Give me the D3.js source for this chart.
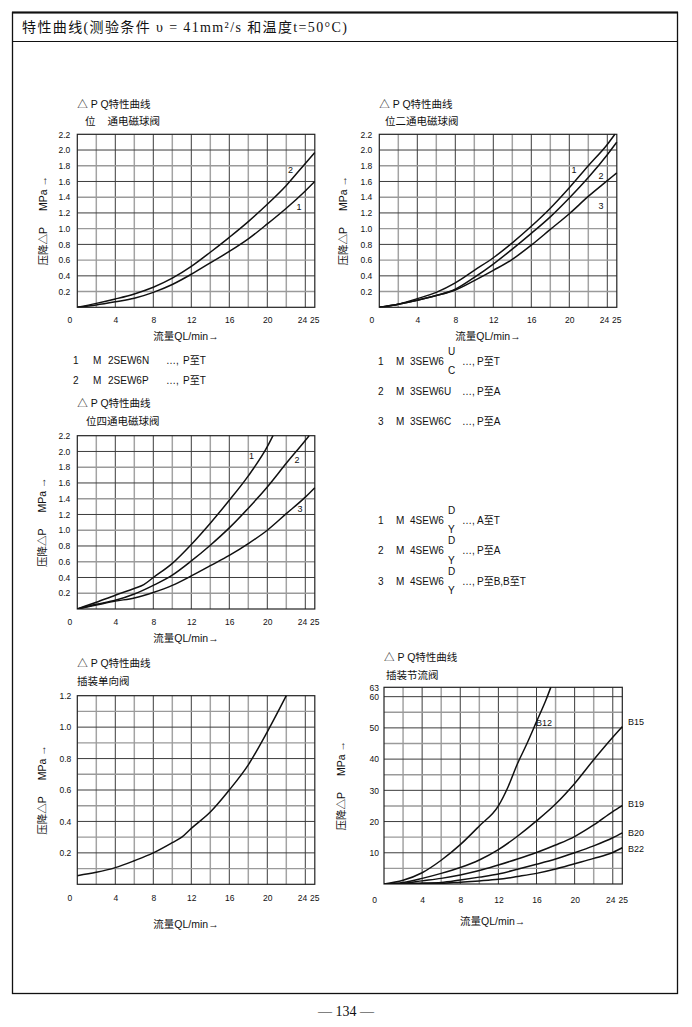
<!DOCTYPE html>
<html><head><meta charset="utf-8">
<script src="https://cdn.jsdelivr.net/npm/d3@7"></script>
<style>
html,body{margin:0;padding:0;background:#fff;}
svg{display:block;}
text{font-family:"Liberation Sans","Noto Sans CJK SC",sans-serif;fill:#111;}
</style></head><body>
<svg id="page" width="692" height="1027"></svg>
<script>
// ---------------- DATA ----------------
const headerText = "特性曲线(测验条件 υ = 41mm²/s 和温度t=50°C)";
const pageNumber = "— 134 —";
const chartTitle = "△ P  Q特性曲线";
const subtitles = ["位", "通电磁球阀", "位二通电磁球阀", "位四通电磁球阀", "插装单向阀", "插装节流阀"];
const yAxisTitleA = "压降△P";
const yAxisTitleB = "MPa →";
const xAxisTitle = "流量QL/min→";

const xTicks = [0, 4, 8, 12, 16, 20, 24, 25];
const xGrid = [2, 4, 6, 8, 10, 12, 14, 16, 18, 20, 22, 24];
const yTicksP = [0.2, 0.4, 0.6, 0.8, 1.0, 1.2, 1.4, 1.6, 1.8, 2.0, 2.2];
const yGridP = [0.2, 0.4, 0.6, 0.8, 1.0, 1.2, 1.4, 1.6, 1.8, 2.0];
const yTicksCheck = [0.2, 0.4, 0.6, 0.8, 1.0, 1.2];
const yGridCheck = [0.1, 0.2, 0.3, 0.4, 0.5, 0.6, 0.7, 0.8, 0.9, 1.0, 1.1];
const yTicksThrottle = [10, 20, 30, 40, 50, 60, 63];
const yGridThrottle = [5, 10, 15, 20, 25, 30, 35, 40, 45, 50, 55, 60];

const q = [0, 2, 4, 6, 8, 10, 12, 14, 16, 18, 20, 22, 24, 25];

// chart 1: 2-way ball valve
const c1Curve1 = [0, 0.03, 0.07, 0.115, 0.19, 0.29, 0.42, 0.565, 0.71, 0.87, 1.06, 1.26, 1.48, 1.60];
const c1Curve2 = [0, 0.05, 0.106, 0.17, 0.255, 0.37, 0.52, 0.70, 0.89, 1.09, 1.31, 1.55, 1.83, 1.97];

// chart 2: 3-way ball valve
const c2Curve1Q = [0, 2, 4, 6, 8, 10, 12, 14, 16, 18, 20, 22, 24, 24.8];
const c2Curve1 = [0, 0.04, 0.11, 0.19, 0.31, 0.47, 0.63, 0.82, 1.03, 1.26, 1.52, 1.80, 2.07, 2.2];
const c2Curve2 = [0, 0.04, 0.09, 0.15, 0.23, 0.38, 0.55, 0.74, 0.94, 1.15, 1.39, 1.65, 1.94, 2.10];
const c2Curve3 = [0, 0.04, 0.09, 0.15, 0.22, 0.34, 0.47, 0.61, 0.79, 0.99, 1.19, 1.41, 1.61, 1.71];

// chart 3: 4-way ball valve
const c3Curve1Q = [0, 2, 4, 6, 7, 8, 10, 12, 14, 16, 18, 20, 20.6];
const c3Curve1 = [0, 0.085, 0.175, 0.26, 0.31, 0.40, 0.58, 0.82, 1.09, 1.38, 1.69, 2.06, 2.2];
const c3Curve2Q = [0, 2, 4, 6, 8, 10, 12, 14, 16, 18, 20, 22, 24, 24.4];
const c3Curve2 = [0, 0.06, 0.11, 0.19, 0.30, 0.43, 0.61, 0.81, 1.03, 1.28, 1.55, 1.85, 2.14, 2.2];
const c3Curve3 = [0, 0.05, 0.10, 0.14, 0.21, 0.30, 0.42, 0.55, 0.68, 0.83, 1.00, 1.21, 1.42, 1.54];

// chart 4: cartridge check valve
const c4Q = [0, 2, 4, 6, 8, 10, 11, 12, 14, 16, 18, 20, 22];
const c4Curve = [0.055, 0.076, 0.106, 0.15, 0.20, 0.265, 0.30, 0.356, 0.46, 0.60, 0.76, 0.97, 1.20];

// chart 5: cartridge throttle valve
const b12Q = [0, 2, 4, 6, 8, 10, 12, 13, 14, 15, 16, 17, 17.5];
const b12 = [0, 1.2, 3.6, 7.6, 12.6, 18.6, 25, 31, 38.5, 45, 52, 59, 63];
const b15 = [0, 0.5, 1.8, 3.4, 5.3, 7.7, 11.0, 15.3, 20.2, 25.6, 32.2, 39.8, 47.0, 50.4];
const b19 = [0, 0.2, 1.0, 1.8, 2.9, 4.3, 6.1, 8.0, 10.1, 12.5, 15.2, 18.9, 23.2, 25.1];
const b20 = [0, 0.1, 0.3, 0.5, 1.3, 2.2, 3.2, 4.7, 6.3, 8.0, 10.0, 12.2, 14.8, 16.4];
const b22 = [0, 0, 0.1, 0.2, 0.6, 1.0, 1.5, 2.4, 3.4, 4.8, 6.5, 8.2, 10.1, 11.6];

// legends
const legend2Way = [["1", "M", "2SEW6N", "…,", "P至T"], ["2", "M", "2SEW6P", "…,", "P至T"]];
const legend3Way = [["1", "M", "3SEW6", "…,", "P至T", "U", "C"], ["2", "M", "3SEW6U", "…,", "P至A"], ["3", "M", "3SEW6C", "…,", "P至A"]];
const legend4Way = [["1", "M", "4SEW6", "…,", "A至T", "D", "Y"], ["2", "M", "4SEW6", "…,", "P至A", "D", "Y"], ["3", "M", "4SEW6", "…,", "P至B,B至T", "D", "Y"]];

// ---------------- DRAW ----------------
const svg = d3.select("#page");
const zip = (xs, ys) => xs.map((v, i) => [v, ys[i]]);

// page frame
svg.append("rect").attr("x", 12.5).attr("y", 12.5).attr("width", 665).attr("height", 981)
  .attr("fill", "none").attr("stroke", "#111").attr("stroke-width", 1.3);
svg.append("line").attr("x1", 12).attr("x2", 678).attr("y1", 12.5).attr("y2", 12.5).attr("stroke", "#111").attr("stroke-width", 2.2);
svg.append("line").attr("x1", 12).attr("x2", 678).attr("y1", 41.5).attr("y2", 41.5).attr("stroke", "#111").attr("stroke-width", 1.2);
svg.append("text").attr("x", 22).attr("y", 32).attr("font-size", 14)
  .style("font-family", '"Liberation Serif","Noto Sans CJK SC",serif')
  .attr("textLength", 325).attr("lengthAdjust", "spacing").text(headerText);
svg.append("text").attr("x", 346).attr("y", 1016).attr("text-anchor", "middle").attr("font-size", 14)
  .style("font-family", '"Liberation Serif",serif').text(pageNumber);

let clipN = 0;
function chart(cfg) {
  const g = svg.append("g");
  const x = d3.scaleLinear().domain([0, 25]).range([cfg.l, cfg.r]);
  const y = d3.scaleLinear().domain([0, cfg.ymax]).range([cfg.b, cfg.t]);

  // grid
  g.selectAll(".vg").data(xGrid).join("line")
    .attr("x1", d => x(d)).attr("x2", d => x(d)).attr("y1", cfg.t).attr("y2", cfg.b)
    .attr("stroke", (d, i) => i % 2 === 0 ? "#a3a3a3" : "#3c3c3c")
    .attr("stroke-width", (d, i) => i % 2 === 0 ? 1.5 : 1);
  g.selectAll(".hg").data(cfg.yGrid).join("line")
    .attr("y1", d => y(d)).attr("y2", d => y(d)).attr("x1", cfg.l).attr("x2", cfg.r)
    .attr("stroke", (d, i) => i % 2 === 0 ? "#9a9a9a" : "#3c3c3c")
    .attr("stroke-width", (d, i) => i % 2 === 0 ? 1.4 : 1);
  g.append("rect").attr("x", cfg.l).attr("y", cfg.t).attr("width", cfg.r - cfg.l).attr("height", cfg.b - cfg.t)
    .attr("fill", "none").attr("stroke", "#222").attr("stroke-width", 1.2);

  // axes (labels only)
  const ax = g.append("g").attr("transform", `translate(0,${cfg.xLabelY})`)
    .call(d3.axisBottom(x).tickValues(xTicks).tickSize(0).tickPadding(0).tickFormat(d3.format("d")));
  ax.select(".domain").remove();
  ax.attr("font-size", 8.5).attr("font-family", '"Liberation Sans",sans-serif');
  ax.selectAll("text").attr("y", 0).attr("dy", "0.35em")
    .attr("dx", d => d === 0 ? cfg.zeroDx : (d === 24 ? cfg.dx24 : (d === 25 ? cfg.dx25 : 0)));

  const ay = g.append("g").attr("transform", `translate(${cfg.l},0)`)
    .call(d3.axisLeft(y).tickValues(cfg.yTicks).tickSize(0).tickPadding(cfg.yPad).tickFormat(cfg.yFmt));
  ay.select(".domain").remove();
  ay.attr("font-size", 8.5).attr("font-family", '"Liberation Sans",sans-serif');

  // titles
  g.append("text").attr("x", cfg.l).attr("y", cfg.titleY).attr("font-size", 10.5).text(chartTitle);
  const st = g.append("text").attr("x", cfg.subX).attr("y", cfg.subY).attr("font-size", 10.5);
  cfg.sub.forEach((s, i) => st.append("tspan").attr("dx", i === 0 ? 0 : 12).text(s));

  // axis titles
  const yt = g.append("text").attr("transform", `translate(${cfg.yTitleX},${(cfg.t + cfg.b) / 2}) rotate(-90)`)
    .attr("text-anchor", "middle").attr("dominant-baseline", "central").attr("font-size", 10.5);
  yt.append("tspan").text(yAxisTitleA);
  yt.append("tspan").attr("dx", 16).text(yAxisTitleB);
  g.append("text").attr("x", cfg.l + 76).attr("y", cfg.xTitleY).attr("dominant-baseline", "central")
    .attr("font-size", 10.5).text(xAxisTitle);

  // curves
  const id = "clip" + (clipN++);
  svg.append("clipPath").attr("id", id).append("rect")
    .attr("x", cfg.l).attr("y", cfg.t - 1).attr("width", cfg.r - cfg.l + 1).attr("height", cfg.b - cfg.t + 1);
  const line = d3.line().x(d => x(d[0])).y(d => y(d[1])).curve(d3.curveMonotoneX);
  const cg = g.append("g").attr("clip-path", `url(#${id})`);
  cfg.series.forEach(s => {
    cg.append("path").attr("d", line(s.pts)).attr("fill", "none").attr("stroke", "#111").attr("stroke-width", 1.5);
  });
  cfg.series.forEach(s => {
    if (s.label) g.append("text").attr("x", s.lx).attr("y", s.ly).attr("dominant-baseline", "central")
      .attr("text-anchor", s.anchor || "middle").attr("font-size", 9).text(s.label);
  });
}

const fmt1 = d3.format(".1f");

chart({ l: 77.3, r: 314.8, t: 134.3, b: 307.3, ymax: 2.2, yTicks: yTicksP, yGrid: yGridP, yFmt: fmt1, yPad: 7,
  xLabelY: 320, xTitleY: 336, zeroDx: -8, dx24: -3.3, dx25: -0.5, yTitleX: 43, titleY: 108, subX: 85, subY: 125,
  sub: [subtitles[0], subtitles[1]],
  series: [{ pts: zip(q, c1Curve1), label: "1", lx: 299, ly: 207 }, { pts: zip(q, c1Curve2), label: "2", lx: 290.5, ly: 170 }] });

chart({ l: 379.3, r: 616.8, t: 134.3, b: 307.3, ymax: 2.2, yTicks: yTicksP, yGrid: yGridP, yFmt: fmt1, yPad: 7,
  xLabelY: 320, xTitleY: 336, zeroDx: -8, dx24: -3.3, dx25: -0.5, yTitleX: 343, titleY: 108, subX: 385, subY: 125,
  sub: [subtitles[2]],
  series: [{ pts: zip(c2Curve1Q, c2Curve1), label: "1", lx: 574, ly: 170 },
           { pts: zip(q, c2Curve2), label: "2", lx: 601, ly: 176 },
           { pts: zip(q, c2Curve3), label: "3", lx: 601, ly: 206 }] });

chart({ l: 77.3, r: 314.8, t: 435.7, b: 609, ymax: 2.2, yTicks: yTicksP, yGrid: yGridP, yFmt: fmt1, yPad: 7,
  xLabelY: 622, xTitleY: 638, zeroDx: -8, dx24: -3.3, dx25: -0.5, yTitleX: 42, titleY: 407, subX: 86, subY: 425,
  sub: [subtitles[3]],
  series: [{ pts: zip(c3Curve1Q, c3Curve1), label: "1", lx: 251.5, ly: 456 },
           { pts: zip(c3Curve2Q, c3Curve2), label: "2", lx: 297, ly: 460 },
           { pts: zip(q, c3Curve3), label: "3", lx: 300, ly: 509 }] });

chart({ l: 77.3, r: 314.8, t: 695.7, b: 884.3, ymax: 1.2, yTicks: yTicksCheck, yGrid: yGridCheck, yFmt: fmt1, yPad: 6,
  xLabelY: 898, xTitleY: 924, zeroDx: -8, dx24: -3.3, dx25: -0.5, yTitleX: 42, titleY: 667, subX: 77, subY: 685,
  sub: [subtitles[4]],
  series: [{ pts: zip(c4Q, c4Curve) }] });

chart({ l: 384, r: 622.3, t: 687.3, b: 884, ymax: 63, yTicks: yTicksThrottle, yGrid: yGridThrottle, yFmt: d3.format("d"), yPad: 5,
  xLabelY: 900, xTitleY: 921, zeroDx: -10, dx24: -2.5, dx25: 0.5, yTitleX: 341, titleY: 661, subX: 386, subY: 679,
  sub: [subtitles[5]],
  series: [{ pts: zip(b12Q, b12), label: "B12", lx: 536, ly: 723, anchor: "start" },
           { pts: zip(q, b15), label: "B15", lx: 628, ly: 722, anchor: "start" },
           { pts: zip(q, b19), label: "B19", lx: 628, ly: 804, anchor: "start" },
           { pts: zip(q, b20), label: "B20", lx: 628, ly: 833, anchor: "start" },
           { pts: zip(q, b22), label: "B22", lx: 628, ly: 849, anchor: "start" }] });

// legends
function legendRow(r, y, xs) {
  const fs = 10;
  [0, 1, 2].forEach(k => svg.append("text").attr("x", xs[k]).attr("y", y).attr("dominant-baseline", "central").attr("font-size", fs).text(r[k]));
  svg.append("text").attr("x", xs[3]).attr("y", y).attr("dominant-baseline", "central").attr("font-size", fs).text(r[3]);
  svg.append("text").attr("x", xs[4]).attr("y", y).attr("dominant-baseline", "central").attr("font-size", fs).text(r[4]);
  if (r[5]) {
    svg.append("text").attr("x", xs[5]).attr("y", y - 10).attr("dominant-baseline", "central").attr("font-size", fs).text(r[5]);
    svg.append("text").attr("x", xs[5]).attr("y", y + 9.5).attr("dominant-baseline", "central").attr("font-size", fs).text(r[6]);
  }
}
const legXLeft = [73, 93, 108, 166, 183];
legend2Way.forEach((r, i) => legendRow(r, 360 + i * 20, legXLeft));
const legXRight = [378, 396, 410, 462, 477, 448];
[361, 391, 421].forEach((y, i) => legendRow(legend3Way[i], y, legXRight));
[520, 550.5, 581].forEach((y, i) => legendRow(legend4Way[i], y, legXRight));
</script>
</body></html>
